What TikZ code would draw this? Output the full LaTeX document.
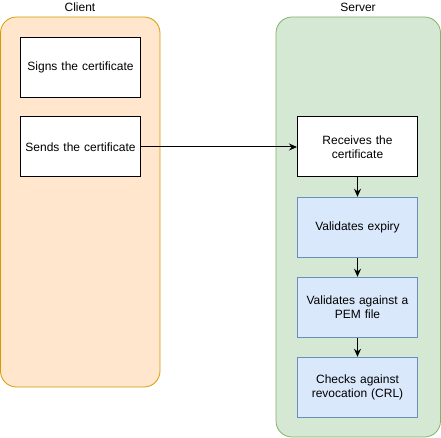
\documentclass[tikz,border=0pt]{standalone}
\usepackage{fontspec}
\setmainfont{Liberation Sans}
\usetikzlibrary{arrows.meta}
\definecolor{orfill}{HTML}{FFE6CC}
\definecolor{orline}{HTML}{D79B00}
\definecolor{grfill}{HTML}{D5E8D4}
\definecolor{grline}{HTML}{82B366}
\definecolor{blfill}{HTML}{DAE8FC}
\definecolor{blline}{HTML}{6C8EBF}
\begin{document}
\begin{tikzpicture}[x=1pt,y=-1pt,
  container/.style={rounded corners=16pt, line width=0.8pt},
  stepbox/.style={draw=black, fill=white, line width=1pt, minimum width=120pt, minimum height=60pt, inner sep=0pt, align=center, text width=112pt, font=\fontsize{12}{14.5}\selectfont},
  bluebox/.style={stepbox, fill=blfill, draw=blline},
  lbl/.style={font=\fontsize{12}{14}\selectfont},
  conn/.style={line width=1pt, -{Stealth[length=8pt,width=7pt]}}]
\useasboundingbox (0,0) rectangle (441,438);
\draw[container, fill=orfill, draw=orline] (0.5,17) rectangle (160,387);
\draw[container, fill=grfill, draw=grline] (276,17) rectangle (440.5,437);
\node[lbl] (cl) at (80,7) {Client};
\node[lbl] (sv) at (358,7) {Server};
\node[stepbox] (signs) at (80.5,67.5) {Signs the certificate};
\node[stepbox] (sends) at (80.5,147) {Sends the certificate};
\node[stepbox] (recv) at (357.5,147) {Receives the\\certificate};
\node[bluebox] (exp) at (357.5,227.3) {Validates expiry};
\node[bluebox] (pem) at (357.5,307.3) {Validates against a\\PEM file};
\node[bluebox] (crl) at (357.5,387.3) {Checks against\\revocation (CRL)};
\draw[conn] (sends) -- (recv);
\draw[conn, line width=1.5pt] (recv) -- (exp);
\draw[conn, line width=1.5pt] (exp) -- (pem);
\draw[conn, line width=1.5pt] (pem) -- (crl);
\end{tikzpicture}
\end{document}
